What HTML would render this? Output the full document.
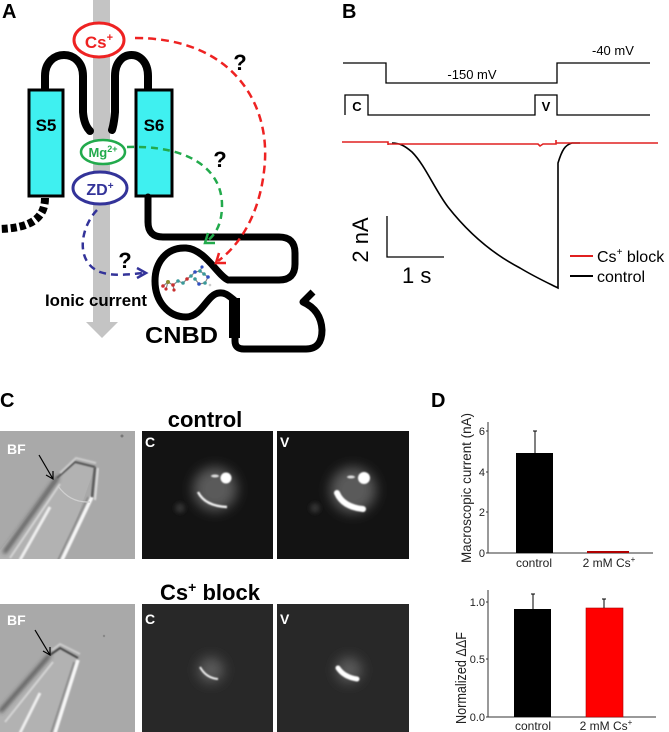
<!DOCTYPE html>
<html><head><meta charset="utf-8">
<style>html,body{margin:0;padding:0;background:#fff;}svg{display:block;}</style>
</head>
<body>
<svg width="669" height="732" viewBox="0 0 669 732" xmlns="http://www.w3.org/2000/svg" font-family="'Liberation Sans', Arial, sans-serif">
<defs>
<filter id="b1" x="-50%" y="-50%" width="200%" height="200%"><feGaussianBlur stdDeviation="0.9"/></filter>
<filter id="b2" x="-50%" y="-50%" width="200%" height="200%"><feGaussianBlur stdDeviation="2"/></filter>
<filter id="b6" x="-80%" y="-80%" width="260%" height="260%"><feGaussianBlur stdDeviation="6"/></filter>
<clipPath id="c1"><rect x="0" y="431" width="135" height="128"/></clipPath>
<clipPath id="c2"><rect x="0" y="604" width="135" height="128"/></clipPath>
<clipPath id="c3"><rect x="142" y="431" width="131" height="128"/></clipPath>
<clipPath id="c4"><rect x="277" y="431" width="132" height="128"/></clipPath>
<clipPath id="c5"><rect x="142" y="604" width="131" height="128"/></clipPath>
<clipPath id="c6"><rect x="277" y="604" width="132" height="128"/></clipPath>
</defs>

<!-- ================= PANEL A ================= -->
<text x="2" y="18" font-size="20" font-weight="bold">A</text>

<rect x="93" y="0" width="17" height="322" fill="#c4c4c4"/>
<polygon points="86,322 118,322 102,338" fill="#c4c4c4"/>

<path d="M45,92 V76 C45,48 83,48 83,76 V112 Q84,125 90,131" stroke="#000" stroke-width="8" fill="none" stroke-linecap="round"/>
<path d="M148,92 V76 C148,48 115,48 115,76 V112 Q114,124 112,130" stroke="#000" stroke-width="8" fill="none" stroke-linecap="round"/>

<rect x="29" y="90" width="34" height="106" fill="#3ff0f0" stroke="#000" stroke-width="3"/>
<rect x="136" y="90" width="36" height="106" fill="#3ff0f0" stroke="#000" stroke-width="3"/>
<text x="46" y="131" font-size="17" font-weight="bold" text-anchor="middle">S5</text>
<text x="154" y="131" font-size="17" font-weight="bold" text-anchor="middle">S6</text>

<path d="M45,198 C45,220 28,228 0,229" stroke="#000" stroke-width="8" fill="none" stroke-dasharray="6,3"/>

<path d="M148,197 V222 Q148,237 163,237 H279 Q295,237 295,253 V264 Q295,280 279,280 H230" stroke="#000" stroke-width="7" fill="none" stroke-linecap="round"/>
<path d="M228,280 C218,276 205,249 186,248 C166,247 155,263 155,281 C155,301 168,317 186,317 C202,317 207,294 219,293 C225,292 229,296 234,300" stroke="#000" stroke-width="7" fill="none" stroke-linecap="round"/>
<rect x="229" y="298" width="11" height="40" fill="#000"/>
<path d="M235,337 V341 Q235,349 244,349 H306 Q322,349 322,330 Q321,310 303,302 L313,292" stroke="#000" stroke-width="7" fill="none" stroke-linejoin="round"/>

<g stroke="#888" stroke-width="1.2" fill="none">
<polyline points="163,286 168,282 173,285 178,281 183,283 187,279 191,276 195,272 200,271 204,274 208,277 205,283 199,284 195,279"/>
<line x1="168" y1="282" x2="166" y2="289"/>
<line x1="173" y1="285" x2="174" y2="290"/>
<line x1="200" y1="271" x2="202" y2="267"/>
</g>
<circle cx="163" cy="286" r="1.8" fill="#c83030"/>
<circle cx="168" cy="282" r="2" fill="#8c8c30"/>
<circle cx="166" cy="289" r="1.6" fill="#c83030"/>
<circle cx="173" cy="285" r="1.8" fill="#c83030"/>
<circle cx="174" cy="290" r="1.6" fill="#c83030"/>
<circle cx="178" cy="281" r="1.8" fill="#3a9a9a"/>
<circle cx="183" cy="283" r="1.8" fill="#3a9a9a"/>
<circle cx="187" cy="279" r="1.8" fill="#c83030"/>
<circle cx="191" cy="276" r="1.8" fill="#3a9a9a"/>
<circle cx="195" cy="272" r="1.8" fill="#3050c0"/>
<circle cx="200" cy="271" r="1.8" fill="#3a9a9a"/>
<circle cx="202" cy="267" r="1.6" fill="#3050c0"/>
<circle cx="204" cy="274" r="1.8" fill="#3a9a9a"/>
<circle cx="208" cy="277" r="1.8" fill="#3050c0"/>
<circle cx="205" cy="283" r="1.8" fill="#3a9a9a"/>
<circle cx="199" cy="284" r="1.8" fill="#3050c0"/>
<circle cx="195" cy="279" r="1.8" fill="#3a9a9a"/>
<circle cx="210" cy="285" r="1.3" fill="#ccc"/>

<ellipse cx="99" cy="40" rx="25" ry="17" fill="#fff" stroke="#ee2222" stroke-width="3"/>
<text x="99" y="48" font-size="17" font-weight="bold" fill="#ee2222" text-anchor="middle">Cs<tspan font-size="11" dy="-7">+</tspan></text>
<ellipse cx="103" cy="152" rx="22" ry="12" fill="#fff" stroke="#22aa4c" stroke-width="2.5"/>
<text x="103" y="157" font-size="13" font-weight="bold" fill="#22aa4c" text-anchor="middle">Mg<tspan font-size="9" dy="-5">2+</tspan></text>
<ellipse cx="100" cy="188" rx="27" ry="16" fill="#fff" stroke="#333399" stroke-width="3"/>
<text x="100" y="195" font-size="16" font-weight="bold" fill="#333399" text-anchor="middle">ZD<tspan font-size="10" dy="-6">+</tspan></text>

<path d="M135,38 C230,38 268,100 265,160 C262,212 240,245 218,261" stroke="#ee2222" stroke-width="2.5" fill="none" stroke-dasharray="8,5"/>
<polyline points="219,253 216,263 226,263" stroke="#ee2222" stroke-width="2.5" fill="none"/>
<path d="M127,147 C190,145 222,170 222,205 C222,225 215,235 207,241" stroke="#22aa4c" stroke-width="2.5" fill="none" stroke-dasharray="7,5"/>
<polyline points="208,233 205,243 215,243" stroke="#22aa4c" stroke-width="2.5" fill="none"/>
<path d="M97,210 C80,228 75,262 100,272 C115,277 130,274 144,273" stroke="#333399" stroke-width="2.5" fill="none" stroke-dasharray="7,5"/>
<polyline points="137,268 146,273 137,278" stroke="#333399" stroke-width="2.5" fill="none"/>

<text x="240" y="70" font-size="22" font-weight="bold" text-anchor="middle">?</text>
<text x="220" y="167" font-size="22" font-weight="bold" text-anchor="middle">?</text>
<text x="125" y="268" font-size="22" font-weight="bold" text-anchor="middle">?</text>

<text x="45" y="306" font-size="17" font-weight="bold" textLength="102" lengthAdjust="spacingAndGlyphs">Ionic current</text>
<text x="145" y="343" font-size="23" font-weight="bold" textLength="73" lengthAdjust="spacingAndGlyphs">CNBD</text>

<!-- ================= PANEL B ================= -->
<text x="342" y="18" font-size="20" font-weight="bold">B</text>
<path d="M343,63 H386 V83 H557 V63 H650" stroke="#000" stroke-width="1.3" fill="none"/>
<text x="472" y="79" font-size="13" text-anchor="middle">-150 mV</text>
<text x="592" y="55" font-size="13">-40 mV</text>
<path d="M345,115 V95 H368 V115 H535 V95 H557 V115 H650" stroke="#000" stroke-width="1.3" fill="none"/>
<text x="357" y="111" font-size="13" font-weight="bold" text-anchor="middle">C</text>
<text x="546" y="111" font-size="13" font-weight="bold" text-anchor="middle">V</text>

<path d="M392,143 C400,143 405,146 412,152 C425,165 435,190 448,207 C470,235 495,255 520,268 C535,277 548,283 558,288 V163 C562,150 565,145 572,143 H580" stroke="#000" stroke-width="1.6" fill="none"/>
<path d="M342,142 H388 V145 V144 H538 L540,146 L543,144 H556 V140 V143 H658" stroke="#e02020" stroke-width="1.6" fill="none"/>

<path d="M387,216 V257 H444" stroke="#000" stroke-width="1.3" fill="none"/>
<text transform="translate(368,240) rotate(-90)" font-size="22" text-anchor="middle">2 nA</text>
<text x="402" y="283" font-size="22">1 s</text>

<line x1="570" y1="256" x2="593" y2="256" stroke="#e02020" stroke-width="2"/>
<text x="597" y="262" font-size="16">Cs<tspan font-size="10" dy="-7">+</tspan><tspan dy="7"> block</tspan></text>
<line x1="570" y1="276" x2="593" y2="276" stroke="#000" stroke-width="2"/>
<text x="597" y="282" font-size="16">control</text>

<!-- ================= PANEL C ================= -->
<text x="0" y="407" font-size="20" font-weight="bold">C</text>
<text x="205" y="427" font-size="22" font-weight="bold" text-anchor="middle">control</text>
<text x="210" y="600" font-size="22" font-weight="bold" text-anchor="middle">Cs<tspan font-size="14" dy="-8">+</tspan><tspan dy="8"> block</tspan></text>

<g clip-path="url(#c1)">
<rect x="0" y="431" width="135" height="128" fill="#a9a9a9"/>
<polygon points="55,480 75,462 95,467 62,560 0,560 0,550" fill="#b2b2b2"/>
<path d="M58,477 L4,553" stroke="#3a3a3a" stroke-width="3" filter="url(#b2)"/>
<path d="M60,484 L10,558" stroke="#d4d4d4" stroke-width="2" filter="url(#b1)"/>
<path d="M50,507 L20,560" stroke="#eeeeee" stroke-width="3" filter="url(#b1)"/>
<path d="M92,497 L62,560" stroke="#f6f6f6" stroke-width="3.5" filter="url(#b1)"/>
<path d="M88,497 L58,560" stroke="#888" stroke-width="1.5" filter="url(#b1)"/>
<path d="M95,467 L92,497" stroke="#5a5a5a" stroke-width="2.5" filter="url(#b1)"/>
<path d="M98,468 L95,500" stroke="#dcdcdc" stroke-width="2" filter="url(#b1)"/>
<path d="M57,478 L75,462 L95,467" stroke="#555" stroke-width="2" fill="none" filter="url(#b1)"/>
<path d="M60,473 L76,458 L96,463" stroke="#cccccc" stroke-width="2" fill="none" filter="url(#b1)"/>
<path d="M58,486 Q70,503 90,502" stroke="#d0d0d0" stroke-width="1.2" fill="none"/>
<circle cx="122" cy="436" r="1.5" fill="#777"/>
</g>
<line x1="39" y1="455" x2="53" y2="479" stroke="#000" stroke-width="1.2"/>
<polyline points="53,471 53,479 46,475" stroke="#000" stroke-width="1.2" fill="none"/>
<text x="7" y="454" font-size="14" font-weight="bold" fill="#fff">BF</text>

<g clip-path="url(#c2)">
<rect x="0" y="604" width="135" height="128" fill="#a9a9a9"/>
<polygon points="50,655 60,648 78,658 55,733 0,733 0,712" fill="#b2b2b2"/>
<path d="M50,655 L0,712" stroke="#3a3a3a" stroke-width="3" filter="url(#b2)"/>
<path d="M53,662 L5,722" stroke="#d4d4d4" stroke-width="2" filter="url(#b1)"/>
<path d="M40,693 L20,733" stroke="#eeeeee" stroke-width="3" filter="url(#b1)"/>
<path d="M78,660 L55,733" stroke="#f6f6f6" stroke-width="3.5" filter="url(#b1)"/>
<path d="M74,662 L51,733" stroke="#888" stroke-width="1.5" filter="url(#b1)"/>
<path d="M50,655 L60,648 L78,658" stroke="#444" stroke-width="2" fill="none" filter="url(#b1)"/>
<path d="M52,650 L60,644 L80,654" stroke="#cccccc" stroke-width="2" fill="none" filter="url(#b1)"/>
<path d="M80,658 L80,672" stroke="#e4e4e4" stroke-width="2" filter="url(#b1)"/>
<circle cx="104" cy="636" r="1.2" fill="#888"/>
</g>
<line x1="35" y1="630" x2="50" y2="655" stroke="#000" stroke-width="1.2"/>
<polyline points="50,647 50,655 43,651" stroke="#000" stroke-width="1.2" fill="none"/>
<text x="7" y="625" font-size="14" font-weight="bold" fill="#fff">BF</text>

<rect x="142" y="431" width="131" height="128" fill="#131313"/>
<g clip-path="url(#c3)">
<circle cx="215" cy="489" r="22" fill="#5a5a5a" filter="url(#b6)"/>
<circle cx="180" cy="508" r="5" fill="#333" filter="url(#b2)"/>
<circle cx="226" cy="478" r="5.5" fill="#fff" filter="url(#b1)"/>
<ellipse cx="215" cy="476" rx="4" ry="1.5" fill="#e0e0e0" filter="url(#b1)"/>
<path d="M198,492 Q205,506 227,507" stroke="#f2f2f2" stroke-width="2.5" fill="none" filter="url(#b1)"/>
</g>
<text x="145" y="447" font-size="14" font-weight="bold" fill="#fff">C</text>

<rect x="277" y="431" width="132" height="128" fill="#131313"/>
<g clip-path="url(#c4)">
<circle cx="353" cy="490" r="23" fill="#5a5a5a" filter="url(#b6)"/>
<circle cx="315" cy="508" r="5" fill="#333" filter="url(#b2)"/>
<circle cx="364" cy="478" r="6" fill="#fff" filter="url(#b1)"/>
<ellipse cx="351" cy="477" rx="4" ry="1.5" fill="#e0e0e0" filter="url(#b1)"/>
<path d="M337,493 Q343,507 363,509" stroke="#fff" stroke-width="6" fill="none" stroke-linecap="round" filter="url(#b1)"/>
</g>
<text x="280" y="447" font-size="14" font-weight="bold" fill="#fff">V</text>

<rect x="142" y="604" width="131" height="128" fill="#282828"/>
<g clip-path="url(#c5)">
<circle cx="211" cy="670" r="13" fill="#5a5a5a" filter="url(#b6)"/>
<path d="M200,667 Q206,678 218,679" stroke="#f0f0f0" stroke-width="2" fill="none" filter="url(#b1)"/>
</g>
<text x="145" y="624" font-size="14" font-weight="bold" fill="#fff">C</text>

<rect x="277" y="604" width="132" height="128" fill="#282828"/>
<g clip-path="url(#c6)">
<circle cx="349" cy="670" r="13" fill="#5a5a5a" filter="url(#b6)"/>
<path d="M338,668 Q344,677 357,679" stroke="#fff" stroke-width="5" fill="none" stroke-linecap="round" filter="url(#b1)"/>
</g>
<text x="280" y="624" font-size="14" font-weight="bold" fill="#fff">V</text>

<!-- ================= PANEL D ================= -->
<text x="431" y="407" font-size="20" font-weight="bold">D</text>

<g font-size="11" fill="#222">
<path d="M488,422 V553 H653" stroke="#333" stroke-width="1" fill="none"/>
<path d="M486,431 H488 M486,472 H488 M486,512 H488 M486,553 H488" stroke="#333" stroke-width="1"/>
<text x="485" y="435" text-anchor="end">6</text>
<text x="485" y="476" text-anchor="end">4</text>
<text x="485" y="516" text-anchor="end">2</text>
<text x="485" y="557" text-anchor="end">0</text>
<rect x="516" y="453" width="37" height="100" fill="#000"/>
<path d="M535,453 V431 M533,431 H537" stroke="#000" stroke-width="1"/>
<rect x="587" y="551" width="42" height="2" fill="#b00000"/>
<text x="534" y="567" font-size="12" text-anchor="middle">control</text>
<text x="609" y="567" font-size="12" text-anchor="middle">2 mM Cs<tspan font-size="8" dy="-5">+</tspan></text>
<text transform="translate(471,488) rotate(-90)" font-size="13.5" text-anchor="middle" textLength="150" lengthAdjust="spacingAndGlyphs">Macroscopic current (nA)</text>
</g>

<g font-size="11" fill="#222">
<path d="M488,590 V717 H656" stroke="#333" stroke-width="1" fill="none"/>
<path d="M486,602 H488 M486,659 H488 M486,717 H488" stroke="#333" stroke-width="1"/>
<text x="485" y="606" text-anchor="end">1.0</text>
<text x="485" y="663" text-anchor="end">0.5</text>
<text x="485" y="721" text-anchor="end">0.0</text>
<rect x="514" y="609" width="37" height="108" fill="#000"/>
<path d="M533,609 V594 M531,594 H535" stroke="#000" stroke-width="1"/>
<rect x="586" y="608" width="37" height="109" fill="#ff0000" stroke="#a00" stroke-width="0.6"/>
<path d="M604,608 V599 M602,599 H606" stroke="#000" stroke-width="1"/>
<text x="533" y="730" font-size="12" text-anchor="middle">control</text>
<text x="606" y="730" font-size="12" text-anchor="middle">2 mM Cs<tspan font-size="8" dy="-5">+</tspan></text>
<text transform="translate(466,678) rotate(-90)" font-size="15" text-anchor="middle" textLength="92" lengthAdjust="spacingAndGlyphs">Normalized ΔΔF</text>
</g>
</svg>
</body></html>
